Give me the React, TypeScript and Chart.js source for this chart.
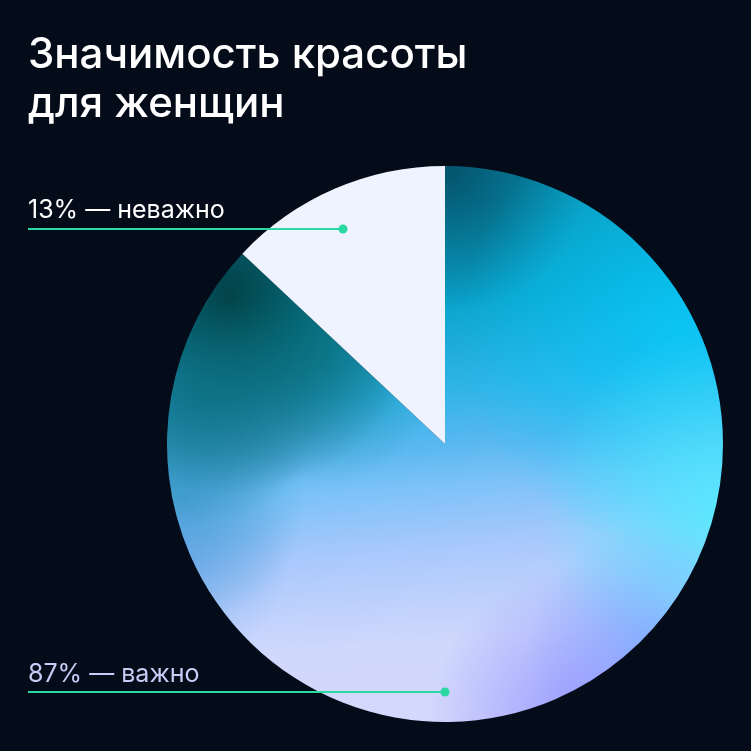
import { useEffect, useRef } from "react";
import { Chart, registerables } from "chart.js";

Chart.register(...registerables);

// data
const sliceLabels = ["важно", "неважно"];
const sliceValues = [87, 13];
const calloutTexts = ["87% — важно", "13% — неважно"];
const titleLines = ["Значимость красоты", "для женщин"];

const BG = "#040c19";
const LINE_GREEN = "#2ad8a2";

function rgba(hex: string, a: number) {
  const n = parseInt(hex, 16);
  return `rgba(${(n >> 16) & 255},${(n >> 8) & 255},${n & 255},${a})`;
}

// builds the multi-gradient fill of the big slice on an offscreen canvas
function makeFill(chart: any) {
  const area = chart.chartArea;
  const cx = (area.left + area.right) / 2;
  const cy = (area.top + area.bottom) / 2;
  const r = Math.min(area.right - area.left, area.bottom - area.top) / 2;

  const off = document.createElement("canvas");
  off.width = chart.width;
  off.height = chart.height;
  const g = off.getContext("2d")!;

  const base = g.createLinearGradient(cx, cy - r, cx + 0.15 * r, cy + r);
  base.addColorStop(0, "#0790b0");
  base.addColorStop(0.24, "#0aa4cc");
  base.addColorStop(0.4, "#30b4e8");
  base.addColorStop(0.5, "#5ab8f0");
  base.addColorStop(0.57, "#7cc2f8");
  base.addColorStop(0.68, "#a8c8fc");
  base.addColorStop(0.85, "#d0d8fc");
  base.addColorStop(1, "#d4d8fc");
  g.fillStyle = base;
  g.fillRect(0, 0, off.width, off.height);

  const blob = (dx: number, dy: number, rad: number, color: string, a: number) => {
    const x = cx + dx * r;
    const y = cy + dy * r;
    const rg = g.createRadialGradient(x, y, 0, x, y, rad * r);
    rg.addColorStop(0, rgba(color, a));
    rg.addColorStop(1, rgba(color, 0));
    g.fillStyle = rg;
    g.fillRect(0, 0, off.width, off.height);
  };

  // teal fading down the left edge
  blob(-0.95, 0.2, 0.45, "1a8cb4", 0.6);
  // dark green upper left
  blob(-0.77, -0.52, 0.7, "023c40", 1);
  blob(-0.88, -0.16, 0.45, "0a7080", 0.6);
  blob(-0.45, -0.3, 0.45, "067078", 0.5);
  // dark teal at top
  blob(0.02, -0.98, 0.5, "044e66", 0.9);
  // cyan right side
  blob(0.85, -0.41, 0.8, "08c8f8", 0.85);
  blob(0.99, 0.24, 0.65, "55eaff", 0.9);
  // blue / purple bottom right
  blob(0.74, 0.74, 0.45, "60a8ff", 0.7);
  blob(0.49, 0.99, 0.55, "9494ff", 0.9);
  // blue on lower left edge
  blob(-0.95, 0.4, 0.4, "5a9ee8", 0.5);

  return chart.ctx.createPattern(off, "no-repeat");
}

const calloutPlugin = {
  id: "callouts",
  afterDraw(chart: any) {
    const ctx = chart.ctx;
    const arc = chart.getDatasetMeta(0).data[0];
    const cx = arc.x;
    const cy = arc.y;

    ctx.save();
    ctx.textBaseline = "alphabetic";
    ctx.textAlign = "left";

    // title
    ctx.fillStyle = "#ffffff";
    ctx.font = "500 42px Inter";
    titleLines.forEach((t, i) => ctx.fillText(t, 28, 68 + i * 49));

    const callouts = [
      { text: calloutTexts[1], color: "#ffffff", ty: 218, ly: 229, dx: cx - 102 },
      { text: calloutTexts[0], color: "#c8ccf6", ty: 682, ly: 692, dx: cx },
    ];
    callouts.forEach((c) => {
      ctx.font = "400 25px Inter";
      ctx.fillStyle = c.color;
      ctx.fillText(c.text, 28, c.ty);
      ctx.strokeStyle = LINE_GREEN;
      ctx.lineWidth = 2;
      ctx.beginPath();
      ctx.moveTo(28, c.ly);
      ctx.lineTo(c.dx, c.ly);
      ctx.stroke();
      ctx.fillStyle = LINE_GREEN;
      ctx.beginPath();
      ctx.arc(c.dx, c.ly, 4.5, 0, Math.PI * 2);
      ctx.fill();
    });
    ctx.restore();
  },
};

function BeautyPie() {
  const chartRef = useRef<HTMLCanvasElement>(null);

  useEffect(() => {
    document.body.style.margin = "0";
    document.body.style.background = BG;
    if (!chartRef.current) return;
    let pattern: any = null;

    const chart = new Chart(chartRef.current, {
      type: "pie",
      data: {
        labels: sliceLabels,
        datasets: [
          {
            data: sliceValues,
            backgroundColor: (c: any) => {
              if (c.dataIndex === 1) return "#eef3ff";
              if (!c.chart.chartArea) return "#4ab8f0";
              if (!pattern) pattern = makeFill(c.chart);
              return pattern;
            },
            borderWidth: 0,
          },
        ],
      },
      options: {
        animation: false,
        responsive: false,
        devicePixelRatio: 1,
        layout: { padding: { left: 167, top: 166, right: 28, bottom: 29 } },
        plugins: {
          legend: { display: false },
          tooltip: { enabled: false },
        },
      },
      plugins: [calloutPlugin],
    });

    return () => {
      chart.destroy();
    };
  }, []);

  return (
    <div style={{ width: 751, height: 751, background: BG }}>
      <canvas ref={chartRef} width="751" height="751" />
    </div>
  );
}

export default function App() {
  return <BeautyPie />;
}
